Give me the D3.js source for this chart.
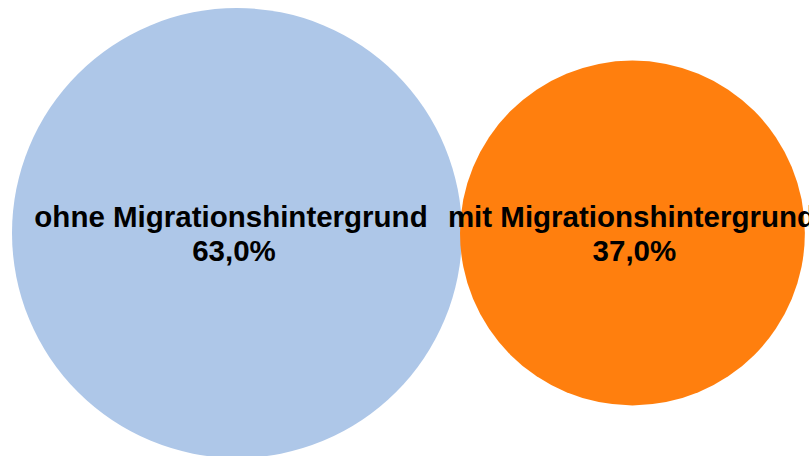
<!DOCTYPE html>
<html><head><meta charset="utf-8">
<script src="https://cdn.jsdelivr.net/npm/d3@7"></script>
<style>html,body{margin:0;padding:0;background:#fff;overflow:hidden}</style>
</head><body>
<svg id="chart" width="809" height="456"></svg>
<script>
const categories = ["ohne Migrationshintergrund", "mit Migrationshintergrund"];
const values = [63.0, 37.0];
const colors = ["#aec7e8", "#ff7f0e"];

const svg = d3.select("#chart");
const r = d3.scaleSqrt().domain([0, 63]).range([0, 225]);
const cy = 233;
const x0 = 12;
const data = categories.map((c, i) => ({c, v: values[i], col: colors[i], i}));
let cur = x0;
data.forEach(d => { d.r = r(d.v); d.cx = cur + d.r; cur = d.cx + d.r - 2; });

const fmt = v => d3.format(".1f")(v).replace(".", ",") + "%";

const g = svg.selectAll("g.node").data(data).join("g").attr("class", "node");
g.append("circle").attr("cx", d => d.cx).attr("cy", cy).attr("r", d => d.r).attr("fill", d => d.col);
const t = g.append("text")
  .attr("text-anchor", "middle")
  .attr("font-family", "'Liberation Sans', Arial, sans-serif")
  .attr("font-weight", "bold")
  .attr("font-size", 29.5)
  .attr("fill", "#000");
t.append("tspan").attr("x", d => d.cx + (d.i ? -1 : -6)).attr("y", cy - 6).text(d => d.c);
t.append("tspan").attr("x", d => d.cx + (d.i ? 2 : -3)).attr("y", cy + 28).text(d => fmt(d.v));
</script>
</body></html>
